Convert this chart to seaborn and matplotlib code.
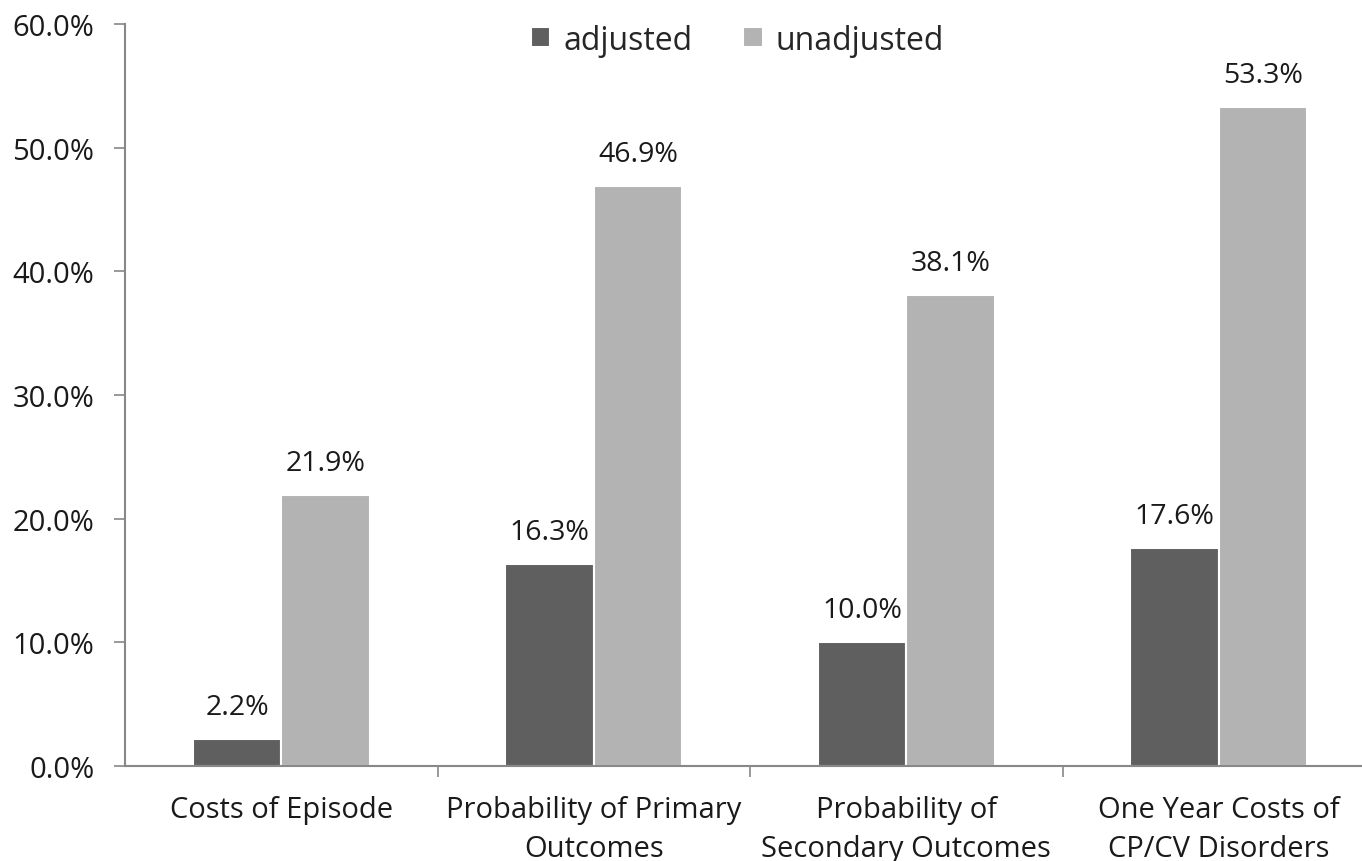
import matplotlib
matplotlib.use("Agg")
import matplotlib.pyplot as plt
import seaborn as sns
import pandas as pd
from matplotlib.ticker import FuncFormatter, FixedLocator

categories = ["Costs of Episode", "Probability of Primary\nOutcomes",
              "Probability of\nSecondary Outcomes", "One Year Costs of\nCP/CV Disorders"]
adjusted = [2.2, 16.3, 10.0, 17.6]
unadjusted = [21.9, 46.9, 38.1, 53.3]
series = ["adjusted", "unadjusted"]
palette = {"adjusted": "#5f5f5f", "unadjusted": "#b3b3b3"}

df = pd.DataFrame({
    "category": categories * 2,
    "series": ["adjusted"] * 4 + ["unadjusted"] * 4,
    "value": adjusted + unadjusted,
})

sns.set_style("white")
plt.rcParams["font.family"] = ["Open Sans", "DejaVu Sans"]

fig = plt.figure(figsize=(13.62, 8.62), dpi=100)
ax = fig.add_axes([125 / 1362, 95 / 862, 1250 / 1362, 742 / 862])

sns.barplot(data=df, x="category", y="value", hue="series", hue_order=series,
            palette=palette, width=0.565, edgecolor="white", linewidth=1.5,
            saturation=1, ax=ax)

for cont in ax.containers:
    ax.bar_label(cont, labels=[f"{v:.1f}%" for v in cont.datavalues],
                 padding=13, fontsize=20.5, color="#1a1a1a")

ax.set_ylim(0, 60)
ax.set_xlim(-0.5, 3.5)
ax.set_yticks(range(0, 61, 10))
ax.yaxis.set_major_formatter(FuncFormatter(lambda v, p: f"{v:.1f}%"))
ax.set_xlabel("")
ax.set_ylabel("")
ax.tick_params(axis="y", labelsize=21, length=8, width=1.2, color="#888888",
               left=True, pad=14, labelcolor="#1a1a1a")
# category labels centred, tick marks between categories
ax.xaxis.set_minor_locator(FixedLocator([0.5, 1.5, 2.5]))
ax.tick_params(axis="x", which="major", length=0, labelsize=21, pad=21,
               labelcolor="#1a1a1a")
ax.tick_params(axis="x", which="minor", length=8, width=1.2, color="#888888",
               bottom=True)
for lbl in ax.get_xticklabels():
    lbl.set_linespacing(1.45)

for s in ["top", "right"]:
    ax.spines[s].set_visible(False)
for s in ["left", "bottom"]:
    ax.spines[s].set_color("#888888")
    ax.spines[s].set_linewidth(1.5)

leg = ax.legend(loc="center", bbox_to_anchor=(0.49, 1 - 16 / 742), ncol=2,
                frameon=False, fontsize=23, handlelength=0.6, handleheight=0.6,
                columnspacing=1.6, handletextpad=0.4)

fig.savefig("out.png", dpi=100)
